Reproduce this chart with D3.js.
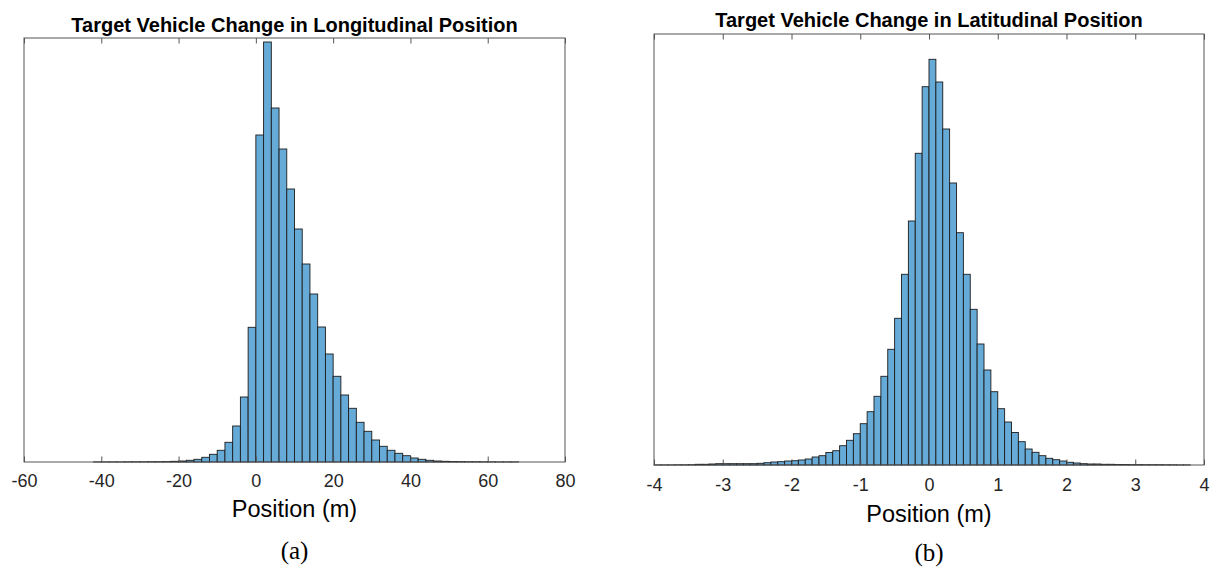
<!DOCTYPE html>
<html>
<head>
<meta charset="utf-8">
<script src="https://cdn.jsdelivr.net/npm/d3@7"></script>
<style>
  body { margin: 0; background: #fff; }
  svg { display: block; }
</style>
</head>
<body>
<svg id="chart" width="1210" height="569"></svg>
<script>

// left panel: longitudinal change, bins of 2 m (left edge of each bin)
var longEdges = [-42, -40, -38, -36, -34, -32, -30, -28, -26, -24, -22, -20, -18, -16, -14, -12, -10, -8, -6, -4, -2,
                 0, 2, 4, 6, 8, 10, 12, 14, 16, 18, 20, 22, 24, 26, 28, 30, 32, 34, 36, 38, 40, 42, 44, 46, 48,
                 50, 52, 54, 56, 58, 60, 62, 64, 66];
var longCounts = [1, 1, 1, 1, 2, 2, 2, 3, 3, 4, 7, 10, 17, 27, 47, 77, 117, 197, 360, 650, 1347,
                  3270, 4200, 3540, 3130, 2730, 2330, 1980, 1680, 1350, 1080, 857, 670, 537, 397, 307, 220, 157, 117, 87, 63, 40,
                  27, 17, 10, 7, 5, 4, 3, 3, 2, 2, 1, 1, 1];
var longTicks = [-60, -40, -20, 0, 20, 40, 60, 80];

// right panel: latitudinal change, bins of 0.1 m
var latEdges = [-4.0, -3.9, -3.8, -3.7, -3.6, -3.5, -3.4, -3.3, -3.2, -3.1, -3.0, -2.9, -2.8, -2.7, -2.6, -2.5, -2.4, -2.3,
                -2.2, -2.1, -2.0, -1.9, -1.8, -1.7, -1.6, -1.5, -1.4, -1.3, -1.2, -1.1, -1.0, -0.9, -0.8, -0.7, -0.6, -0.5,
                -0.4, -0.3, -0.2, -0.1, 0.0, 0.1, 0.2, 0.3, 0.4, 0.5, 0.6, 0.7, 0.8, 0.9, 1.0, 1.1, 1.2, 1.3, 1.4, 1.5,
                1.6, 1.7, 1.8, 1.9, 2.0, 2.1, 2.2, 2.3, 2.4, 2.5, 2.6, 2.7, 2.8, 2.9, 3.0, 3.1, 3.2, 3.3, 3.4, 3.5, 3.6, 3.7];
var latCounts = [1, 1, 1, 2, 2, 3, 7, 7, 10, 13, 13, 13, 13, 13, 13, 17, 23, 30,
                 33, 40, 43, 50, 60, 80, 93, 125, 143, 193, 247, 313, 413, 533, 687, 887, 1157, 1467,
                 1907, 2440, 3117, 3783, 4057, 3830, 3360, 2820, 2323, 1907, 1557, 1210, 950, 733, 563, 430, 325, 233, 160, 127,
                 93, 67, 53, 40, 27, 20, 13, 10, 10, 7, 7, 5, 5, 4, 4, 3, 3, 3, 2, 2, 1, 1];
var latTicks = [-4, -3, -2, -1, 0, 1, 2, 3, 4];

var svg = d3.select('#chart');
var sans = '"Liberation Sans", Arial, Helvetica, sans-serif';

function drawHist(opt) {
	var x = d3.scaleLinear().domain(opt.xDomain).range([opt.left, opt.right]);
	var y = d3.scaleLinear().domain([0, opt.yMax]).range([opt.bottom, opt.top]);
	var g = svg.append('g');

	g.selectAll('rect.bar')
		.data(opt.edges)
		.enter()
		.append('rect')
		.attr('class', 'bar')
		.attr('x', function(d) { return x(d); })
		.attr('width', function(d) { return x(d + opt.binWidth) - x(d); })
		.attr('y', function(d, i) { return y(opt.counts[i]); })
		.attr('height', function(d, i) { return y(0) - y(opt.counts[i]); })
		.attr('fill', '#66aad7')
		.attr('stroke', '#1c1c1c')
		.attr('stroke-width', 0.9);

	// bottom axis, ticks pointing in
	var bottomAxis = g.append('g')
		.attr('transform', 'translate(0,' + opt.bottom + ')')
		.call(d3.axisBottom(x).tickValues(opt.ticks).tickSize(-5.5).tickPadding(opt.labelPad).tickFormat(d3.format('d')));
	bottomAxis.select('.domain').remove();
	bottomAxis.selectAll('line').attr('stroke', '#555');
	bottomAxis.selectAll('text')
		.attr('font-family', sans)
		.attr('font-size', '18px')
		.attr('fill', '#262626')
		.text(function(d) { return String(d); });

	// top ticks
	var topAxis = g.append('g')
		.attr('transform', 'translate(0,' + opt.top + ')')
		.call(d3.axisTop(x).tickValues(opt.ticks).tickSize(-5.5).tickFormat(''));
	topAxis.select('.domain').remove();
	topAxis.selectAll('line').attr('stroke', '#555');

	// box
	g.append('rect')
		.attr('x', opt.left)
		.attr('y', opt.top)
		.attr('width', opt.right - opt.left)
		.attr('height', opt.bottom - opt.top)
		.attr('fill', 'none')
		.attr('stroke', '#555')
		.attr('stroke-width', 1);

	var mid = (opt.left + opt.right) / 2;

	g.append('text')
		.text(opt.title)
		.attr('x', mid)
		.attr('y', opt.titleY)
		.attr('text-anchor', 'middle')
		.attr('font-family', sans)
		.attr('font-weight', 'bold')
		.attr('font-size', '20px')
		.attr('fill', '#000');

	g.append('text')
		.text('Position (m)')
		.attr('x', mid)
		.attr('y', opt.xlabelY)
		.attr('text-anchor', 'middle')
		.attr('font-family', sans)
		.attr('font-size', '23.5px')
		.attr('fill', '#000');

	g.append('text')
		.text(opt.caption)
		.attr('x', mid)
		.attr('y', opt.captionY)
		.attr('text-anchor', 'middle')
		.attr('font-family', '"Liberation Serif", "DejaVu Serif", serif')
		.attr('font-size', '25px')
		.attr('fill', '#000');
}

drawHist({
	edges: longEdges, counts: longCounts, ticks: longTicks, binWidth: 2,
	xDomain: [-60, 80], yMax: 4240,
	left: 24, right: 565, top: 38, bottom: 462,
	labelPad: 12, titleY: 32, xlabelY: 517, captionY: 559,
	title: 'Target Vehicle Change in Longitudinal Position', caption: '(a)'
});

drawHist({
	edges: latEdges, counts: latCounts, ticks: latTicks, binWidth: 0.1,
	xDomain: [-4, 4], yMax: 4310,
	left: 654, right: 1204, top: 34, bottom: 465,
	labelPad: 13, titleY: 27, xlabelY: 522, captionY: 561,
	title: 'Target Vehicle Change in Latitudinal Position', caption: '(b)'
});

</script>
</body>
</html>
